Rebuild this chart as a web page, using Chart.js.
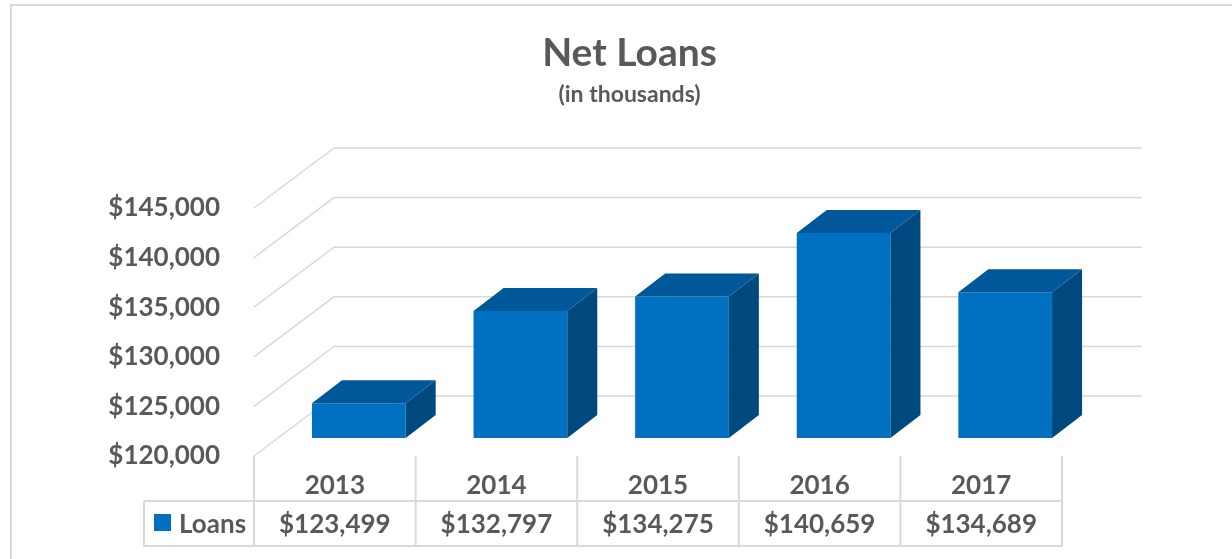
<!DOCTYPE html>
<html>
<head>
<meta charset="utf-8">
<script src="https://cdn.jsdelivr.net/npm/chart.js@4/dist/chart.umd.min.js"></script>
<style>
  html, body { margin: 0; padding: 0; background: #fff; }
  #wrap { width: 1232px; height: 559px; }
</style>
</head>
<body>
<div id="wrap"><canvas id="loansChart" width="1232" height="559"></canvas></div>
<script>
// data
const years = ['2013', '2014', '2015', '2016', '2017'];
const loans = [123499, 132797, 134275, 140659, 134689];
const yTicks = [120000, 125000, 130000, 135000, 140000, 145000];

const FONT = "Lato, 'Open Sans', sans-serif";
const TEXT = '#595959';
const LINE = '#D9D9D9';

// 3D look: wall depth and where the bars sit inside it
const WALL_DX = 80, WALL_DY = 60;
const BAR_SHIFT_X = 24, BAR_SHIFT_Y = -18;
const BAR_DX = 30, BAR_DY = -23;

const money = v => '$' + v.toLocaleString('en-US');

const fake3d = {
    id: 'fake3d',
    beforeDraw(chart) {
        const ctx = chart.ctx;
        ctx.save();
        ctx.strokeStyle = LINE;
        ctx.lineWidth = 2;
        ctx.beginPath();
        ctx.moveTo(11, 600);
        ctx.lineTo(11, 5);
        ctx.lineTo(1300, 5);
        ctx.stroke();
        ctx.restore();
    },
    beforeDatasetsDraw(chart) {
        const ctx = chart.ctx;
        const a = chart.chartArea;
        const y = chart.scales.y;
        ctx.save();
        ctx.strokeStyle = LINE;
        ctx.lineWidth = 1.5;
        yTicks.forEach(v => {
            const py = y.getPixelForValue(v);
            ctx.beginPath();
            ctx.moveTo(a.left, py);
            ctx.lineTo(a.left + WALL_DX, py - WALL_DY);
            ctx.lineTo(a.right + WALL_DX, py - WALL_DY);
            ctx.stroke();
        });
        ctx.restore();
        // bars sit a bit behind the front plane
        ctx.save();
        ctx.translate(BAR_SHIFT_X, BAR_SHIFT_Y);
    },
    afterDatasetsDraw(chart) {
        const ctx = chart.ctx;
        chart.getDatasetMeta(0).data.forEach(bar => {
            const p = bar.getProps(['x', 'y', 'base', 'width'], true);
            const l = p.x - p.width / 2, r = p.x + p.width / 2;
            // top face
            ctx.fillStyle = '#00589A';
            ctx.beginPath();
            ctx.moveTo(l, p.y);
            ctx.lineTo(l + BAR_DX, p.y + BAR_DY);
            ctx.lineTo(r + BAR_DX, p.y + BAR_DY);
            ctx.lineTo(r, p.y);
            ctx.closePath();
            ctx.fill();
            // side face
            ctx.fillStyle = '#00497F';
            ctx.beginPath();
            ctx.moveTo(r, p.y);
            ctx.lineTo(r + BAR_DX, p.y + BAR_DY);
            ctx.lineTo(r + BAR_DX, p.base + BAR_DY);
            ctx.lineTo(r, p.base);
            ctx.closePath();
            ctx.fill();
        });
        ctx.restore();
    },
    afterDraw(chart) {
        const ctx = chart.ctx;
        const a = chart.chartArea;
        const x = chart.scales.x;
        const rowTop = 501, rowBot = 546, legLeft = 144;
        const step = x.getPixelForValue(1) - x.getPixelForValue(0);
        ctx.save();
        ctx.strokeStyle = LINE;
        ctx.lineWidth = 2;
        // column separators
        const edges = [a.left];
        years.forEach((_, i) => edges.push(x.getPixelForValue(i) + step / 2));
        edges.forEach(ex => {
            ctx.beginPath();
            ctx.moveTo(ex, a.bottom);
            ctx.lineTo(ex, rowBot);
            ctx.stroke();
        });
        ctx.beginPath();
        ctx.moveTo(legLeft, rowTop);
        ctx.lineTo(a.right, rowTop);
        ctx.moveTo(legLeft, rowTop);
        ctx.lineTo(legLeft, rowBot);
        ctx.lineTo(a.right, rowBot);
        ctx.stroke();
        // values row
        ctx.fillStyle = TEXT;
        ctx.font = 'bold 26px ' + FONT;
        ctx.textAlign = 'center';
        ctx.textBaseline = 'middle';
        loans.forEach((v, i) => ctx.fillText(money(v), x.getPixelForValue(i), (rowTop + rowBot) / 2 + 1));
        // legend key
        ctx.fillStyle = '#0070C0';
        ctx.fillRect(154, 514, 17, 17);
        ctx.fillStyle = TEXT;
        ctx.textAlign = 'left';
        ctx.fillText('Loans', 179, (rowTop + rowBot) / 2 + 1);
        ctx.restore();
    }
};

new Chart(document.getElementById('loansChart'), {
    type: 'bar',
    data: {
        labels: years,
        datasets: [{
            label: 'Loans',
            data: loans,
            base: yTicks[0],
            backgroundColor: '#0070C0',
            barPercentage: 0.58,
            categoryPercentage: 1
        }]
    },
    options: {
        responsive: false,
        animation: false,
        layout: { padding: { left: 27, right: 0, top: 0, bottom: 0 } },
        plugins: {
            legend: { display: false },
            tooltip: { enabled: false },
            title: {
                display: true,
                text: 'Net Loans',
                color: TEXT,
                font: { family: FONT, size: 39, weight: 'bold' },
                padding: { top: 30, bottom: 0 }
            },
            subtitle: {
                display: true,
                text: '(in thousands)',
                color: TEXT,
                font: { family: FONT, size: 23, weight: 'bold' },
                padding: { top: 4, bottom: 99.6 }
            }
        },
        scales: {
            x: {
                grid: { display: false, drawTicks: false },
                border: { display: false },
                ticks: { color: TEXT, padding: 14, font: { family: FONT, size: 26, weight: 'bold' } },
                afterFit: s => { s.height = 103; }
            },
            y: {
                min: 120000,
                max: 145000,
                afterBuildTicks: s => { s.ticks = yTicks.map(v => ({ value: v })); },
                grid: { display: false, drawTicks: false },
                border: { display: false },
                ticks: {
                    color: TEXT,
                    padding: 34,
                    font: { family: FONT, size: 26, weight: 'bold' },
                    callback: v => money(v)
                },
                afterFit: s => { s.width = 227; }
            },
            // empty strip on the right, keeps the plot narrower than the title block
            pad: {
                position: 'right',
                grid: { display: false, drawTicks: false },
                border: { display: false },
                ticks: { display: false },
                afterFit: s => { s.width = 170; }
            }
        }
    },
    plugins: [fake3d]
});
</script>
</body>
</html>
